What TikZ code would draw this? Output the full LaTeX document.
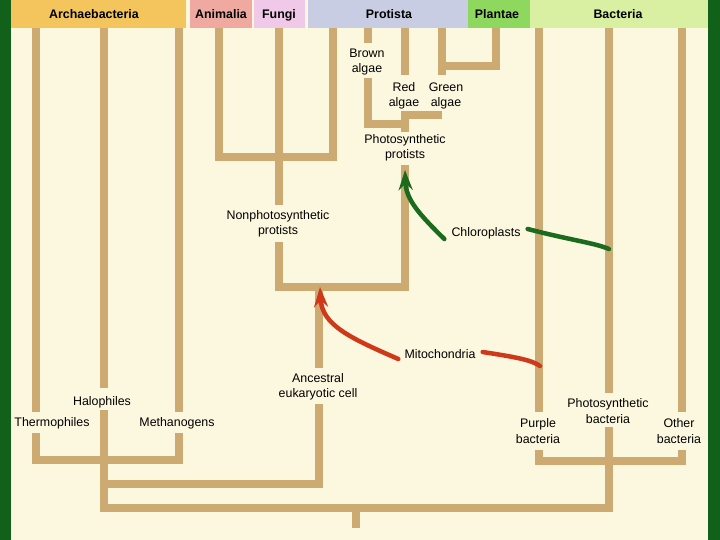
\documentclass[tikz,border=0pt]{standalone}
\usepackage{fontspec}
\setmainfont{Liberation Sans}
\usetikzlibrary{arrows.meta}
\definecolor{bg}{HTML}{FCF8DF}
\definecolor{frame}{HTML}{12611A}
\definecolor{tree}{HTML}{CDAA72}
\definecolor{archc}{HTML}{F3C55C}
\definecolor{animc}{HTML}{F0A9A0}
\definecolor{fungc}{HTML}{F0C8E8}
\definecolor{protc}{HTML}{C9CDE3}
\definecolor{plantc}{HTML}{8ED860}
\definecolor{bactc}{HTML}{D9F0A2}
\definecolor{mito}{HTML}{D0381A}
\definecolor{chloro}{HTML}{1C6A1E}
\begin{document}
\begin{tikzpicture}[x=1pt,y=-1pt,
  branch/.style={draw=tree, line width=8pt, line join=miter, line cap=butt},
  lbl/.style={font=\fontsize{12.4}{15.5}\selectfont, align=center, inner sep=0pt},
  hdr/.style={font=\bfseries\fontsize{12.4}{15}\selectfont, inner sep=0pt, anchor=base},
  transfer/.style={line width=4.5pt, line cap=round},
  tip/.style={-{Stealth[length=20pt,width=14pt]}}]
\useasboundingbox (0,0) rectangle (720,540);
\fill[bg] (0,0) rectangle (720,540);

% ---------- coordinates ----------
% Archaebacteria
\coordinate (thA) at (36,20);  \coordinate (thB) at (36,412);
\coordinate (thC) at (36,433); \coordinate (thD) at (36,460);
\coordinate (haA) at (104,20); \coordinate (haB) at (104,388);
\coordinate (haC) at (104,410); \coordinate (haJ) at (104,484); \coordinate (haD) at (104,508);
\coordinate (meA) at (179,20); \coordinate (meB) at (179,412);
\coordinate (meC) at (179,433); \coordinate (meD) at (179,460);
% eukaryotes
\coordinate (anA) at (319,287); \coordinate (anB) at (319,368);
\coordinate (anC) at (319,404); \coordinate (anD) at (319,484);
\coordinate (npD) at (279,287); \coordinate (npC) at (279,242);
\coordinate (npB) at (279,205); \coordinate (npA) at (279,20);
\coordinate (amA) at (219,20); \coordinate (amJ) at (219,157);
\coordinate (fgA) at (333,20); \coordinate (fgJ) at (333,157);
\coordinate (phD) at (405,287); \coordinate (phC) at (405,165);
\coordinate (phB) at (405,132); \coordinate (rgJ) at (405,115);
\coordinate (brE) at (405,124);
\coordinate (brA) at (368,20); \coordinate (brB) at (368,43);
\coordinate (brC) at (368,78); \coordinate (brD) at (368,124);
\coordinate (rdA) at (405,20); \coordinate (rdB) at (405,75);
\coordinate (grA) at (442,20); \coordinate (grB) at (442,75);
\coordinate (grJ) at (442,66); \coordinate (grD) at (442,115);
\coordinate (plA) at (496,20); \coordinate (plJ) at (496,66);
% bacteria
\coordinate (puA) at (539,20); \coordinate (puB) at (539,412);
\coordinate (puC) at (539,450); \coordinate (puD) at (539,461);
\coordinate (psA) at (609,20); \coordinate (psB) at (609,393);
\coordinate (psC) at (609,427); \coordinate (psD) at (609,508);
\coordinate (otA) at (682,20); \coordinate (otB) at (682,412);
\coordinate (otC) at (682,450); \coordinate (otD) at (682,461);
% root
\coordinate (root) at (356,508); \coordinate (rootE) at (356,528);

% ---------- branches ----------
\draw[branch] (thA) -- (thB);
\draw[branch] (thC) -- (thD) -- (meD) -- (meC);
\draw[branch] (meA) -- (meB);
\draw[branch] (haA) -- (haB);
\draw[branch] (haC) -- (haD) -- (psD) -- (psC);
\draw[branch] (haJ) -- (anD) -- (anC);
\draw[branch] (anB) -- (anA);
\draw[branch] (npC) -- (npD) -- (phD) -- (phC);
\draw[branch] (npB) -- (npA);
\draw[branch] (amA) -- (amJ) -- (fgJ) -- (fgA);
\draw[branch] (brA) -- (brB);
\draw[branch] (brC) -- (brD) -- (brE);
\draw[branch] (phB) -- (rgJ) -- (grD);
\draw[branch] (rdA) -- (rdB);
\draw[branch] (grA) -- (grB);
\draw[branch] (grJ) -- (plJ) -- (plA);
\draw[branch] (puA) -- (puB);
\draw[branch] (puC) -- (puD) -- (otD) -- (otC);
\draw[branch] (otA) -- (otB);
\draw[branch] (psA) -- (psB);
\draw[branch] (root) -- (rootE);

% ---------- header ----------
\fill[archc] (11,0) rectangle (186,28);
\fill[animc] (190,0) rectangle (252,28);
\fill[fungc] (254,0) rectangle (305,28);
\fill[protc] (308,0) rectangle (468,28);
\fill[plantc] (468,0) rectangle (530,28);
\fill[bactc] (530,0) rectangle (708,28);
\node[hdr] (hArch) at (94,19) {Archaebacteria};
\node[hdr] (hAnim) at (221,19) {Animalia};
\node[hdr] (hFung) at (279,19) {Fungi};
\node[hdr] (hProt) at (389,19) {Protista};
\node[hdr] (hPlan) at (497,19) {Plantae};
\node[hdr] (hBact) at (618,19) {Bacteria};

% ---------- labels ----------
\node[lbl] (thermo) at (52,423) {Thermophiles};
\node[lbl] (halo) at (102,402) {Halophiles};
\node[lbl] (metha) at (177,423) {Methanogens};
\node[lbl] (ances) at (318,387) {Ancestral\\eukaryotic cell};
\node[lbl] (nonph) at (278,224) {Nonphotosynthetic\\protists};
\node[lbl] (photp) at (405,148) {Photosynthetic\\protists};
\node[lbl] (brown) at (367,62) {Brown\\algae};
\node[lbl] (red) at (404,96) {Red\\algae};
\node[lbl] (green) at (446,96) {Green\\algae};
\node[lbl] (purple) at (538,431) {Purple\\bacteria};
\node[lbl] (photb) at (608,411) {Photosynthetic\\bacteria};
\node[lbl] (other) at (679,431) {Other\\bacteria};
\node[lbl] (mitoL) at (440,354) {Mitochondria};
\node[lbl] (chloL) at (486,233) {Chloroplasts};

% ---------- endosymbiosis arrows ----------
\coordinate (mitoT) at (320,287);
\coordinate (mitoS) at (540,366);
\coordinate (chloT) at (405,170);
\coordinate (chloS) at (609,249);
\draw[transfer, draw=mito, tip] ([xshift=-6pt,yshift=-5pt]mitoL.west) .. controls (350,338) and (322,325) .. (mitoT);
\draw[transfer, draw=mito] ([xshift=7pt,yshift=2pt]mitoL.east) .. controls (515,357) and (532,360) .. (mitoS);
\draw[transfer, draw=chloro, tip] ([xshift=-7pt,yshift=-6pt]chloL.west) .. controls (420,215) and (406,200) .. (chloT);
\draw[transfer, draw=chloro] ([xshift=7pt,yshift=4pt]chloL.east) .. controls (570,240) and (595,243) .. (chloS);

% ---------- frame ----------
\fill[frame] (0,0) rectangle (11,540);
\fill[frame] (708,0) rectangle (720,540);
\end{tikzpicture}
\end{document}
